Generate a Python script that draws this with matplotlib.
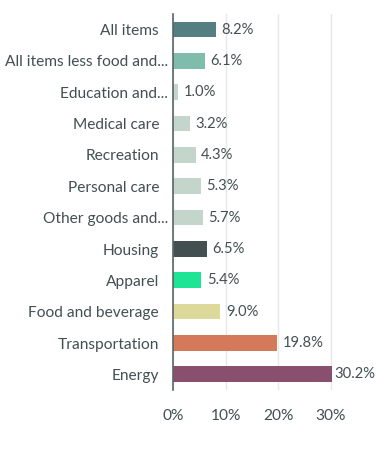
import matplotlib.pyplot as plt
import matplotlib.transforms as mtransforms
from matplotlib.ticker import FuncFormatter

categories = ['All items', 'All items less food and...', 'Education and...', 'Medical care',
              'Recreation', 'Personal care', 'Other goods and...', 'Housing', 'Apparel',
              'Food and beverage', 'Transportation', 'Energy']
values = [8.2, 6.1, 1.0, 3.2, 4.3, 5.3, 5.7, 6.5, 5.4, 9.0, 19.8, 30.2]
colors = ['#547f80', '#80bcab', '#c4d6cc', '#c4d6cc', '#c4d6cc', '#c4d6cc', '#c4d6cc',
          '#444f52', '#1ee596', '#ddd99b', '#d47a5a', '#88506e']
xticks = [0, 10, 20, 30]

text_color = '#444f51'
fsize = 11.2
plt.rcParams['font.family'] = ['Lato', 'DejaVu Sans']

fig = plt.figure(figsize=(3.78, 4.69), dpi=100)
ax = fig.add_axes([173 / 378, 1 - 390 / 469, (346.6 - 173) / 378, (390 - 14) / 469])

ypos = list(range(len(categories)))
ax.barh(ypos, values, height=0.5, color=colors, zorder=3)
for y, v in zip(ypos, values):
    # the widest bar gets a tighter gap so its label stays inside the figure
    off = 1.5 if v == max(values) else 4
    ax.annotate(f'{v:.1f}%', (v, y), xytext=(off, 0), textcoords='offset points',
                va='center', ha='left', fontsize=10.6, color=text_color)

ax.set_ylim(11.5, -0.5)
ax.set_xlim(0, 33)
ax.set_yticks(ypos)
ax.set_yticklabels(categories)
ax.set_xticks(xticks)
ax.xaxis.set_major_formatter(FuncFormatter(lambda x, p: f'{x:.0f}%'))
ax.tick_params(axis='both', length=0, labelsize=fsize, labelcolor=text_color)
ax.tick_params(axis='y', pad=10)
ax.tick_params(axis='x', pad=14)

# truncated labels hang a bit to the right, as in the original
shift = mtransforms.ScaledTranslation(9 / 100, 0, fig.dpi_scale_trans)
for lab in ax.get_yticklabels():
    if lab.get_text().endswith('...'):
        lab.set_transform(lab.get_transform() + shift)

ax.grid(axis='x', color='#e6e9e8', linewidth=1, zorder=0)
for s in ['top', 'right', 'bottom']:
    ax.spines[s].set_visible(False)
ax.spines['left'].set_color('#5d6466')
ax.spines['left'].set_linewidth(1.2)
ax.spines['left'].set_zorder(4)

fig.savefig('out.png', dpi=100)
